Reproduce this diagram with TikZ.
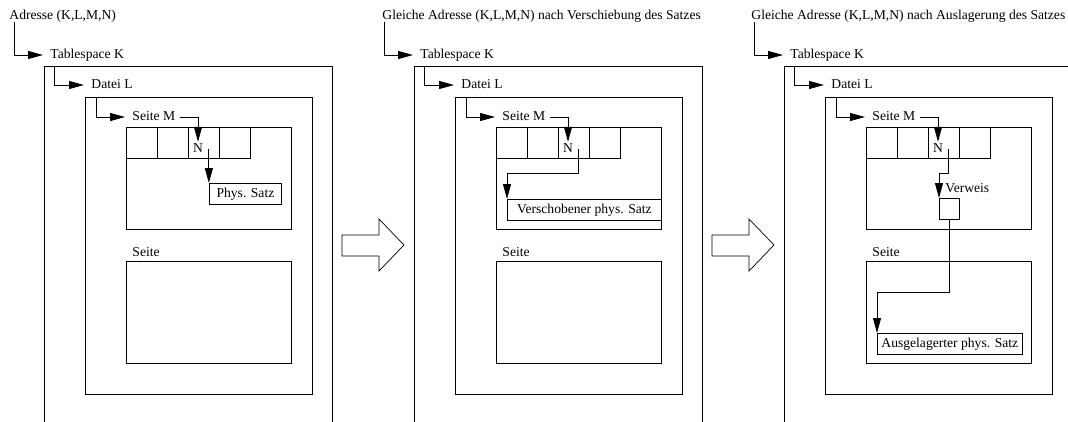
\documentclass[tikz,border=0pt]{standalone}
\usepackage{fontspec}
\setmainfont{Liberation Serif}
\usetikzlibrary{arrows.meta,calc}
\begin{document}
\begin{tikzpicture}[x=1pt,y=-1pt,line width=0.9pt,
  arr/.style={-{Triangle[length=15pt,width=8pt]}},
  txtfont/.style={font=\fontsize{13.6}{16}\selectfont,text height=9.5pt,text depth=3pt},
  lbl/.style={txtfont,anchor=west,inner xsep=7pt,inner ysep=0pt},
  frame/.style={draw,anchor=north west,inner sep=0pt},
  cellbox/.style={draw,anchor=north west,inner sep=0pt,minimum width=31pt,minimum height=31pt},
  txtbox/.style={txtfont,draw,anchor=north west,inner xsep=4pt,inner ysep=0pt,minimum height=21pt},
  bigarrow/.style={draw,fill=white,line width=0.7pt}]
\useasboundingbox (0,0) rectangle (1068,421);
\clip (0,0) rectangle (1068,421);

% address labels
\node[lbl] (addr1) at (2,16) {Adresse (K,L,M,N)};
\node[lbl] (addr2) at (375,16) {Gleiche Adresse (K,L,M,N) nach Verschiebung des Satzes};
\node[lbl] (addr3) at (744,16) {Gleiche Adresse (K,L,M,N) nach Auslagerung des Satzes};

\foreach \p/\ox in {1/0,2/370,3/740}{
\begin{scope}[xshift=\ox pt]
  \coordinate (c\p) at (14,22);
  \node[lbl] (tab\p) at (43,55) {Tablespace K};
  \node[frame,minimum width=288pt,minimum height=374pt] (ts\p) at (44,66) {};
  \node[lbl] (datei\p) at (84,85) {Datei L};
  \node[frame,minimum width=227pt,minimum height=297pt] (df\p) at (85,97) {};
  \node[lbl] (seiteM\p) at (125,117) {Seite M};
  \node[frame,minimum width=165pt,minimum height=102pt] (sm\p) at (126,127) {};
  \node[cellbox] (ca\p) at (126,127) {};
  \node[cellbox] (cb\p) at (157,127) {};
  \node[cellbox] (cc\p) at (188,127) {};
  \node[cellbox] (cd\p) at (219,127) {};
  \node[txtfont,inner sep=0.5pt] (N\p) at (198,149) {N};
  \coordinate (o\p) at ([xshift=5pt]N\p.east);
  \node[lbl] (seite\p) at (125,253) {Seite};
  \node[frame,minimum width=165pt,minimum height=102pt] (s2\p) at (126,261) {};
  \draw[arr] (c\p) |- (tab\p.west);
  \draw[arr] ([xshift=10pt]ts\p.north west) |- (datei\p.west);
  \draw[arr] ([xshift=11pt]df\p.north west) |- (seiteM\p.west);
  \draw[arr] ([xshift=-3pt]seiteM\p.east) -| (N\p.north);
\end{scope}
}

% panel 1
\node[txtbox,minimum width=72pt] (rec1) at (209,183) {Phys. Satz};
\draw[arr] (o1) -- (o1 |- rec1.north);

% panel 2
\node[txtbox,minimum width=154pt] (rec2) at (507,199) {Verschobener phys. Satz};
\draw[arr] (o2) -- ++(0,24) -| (rec2.north west);

% panel 3
\node[frame,minimum width=20pt,minimum height=21pt] (ver) at (939,198) {};
\node[lbl,inner xsep=0pt] (verlbl) at (945,189) {Verweis};
\draw[arr] (o3) -- ++(0,24) -| (ver.north west);
\node[txtbox,minimum width=144pt] (rec3) at (877,333) {Ausgelagerter phys. Satz};
\draw[arr] (ver.south) -- ++(0,73) -| (rec3.north west);

% big arrows between panels
\foreach \ox in {0,370}{
  \draw[bigarrow,xshift=\ox pt] (342,235) -- (379,235) -- (379,219) -- (404,245)
    -- (379,271) -- (379,256) -- (342,256) -- cycle;
}
\end{tikzpicture}
\end{document}
